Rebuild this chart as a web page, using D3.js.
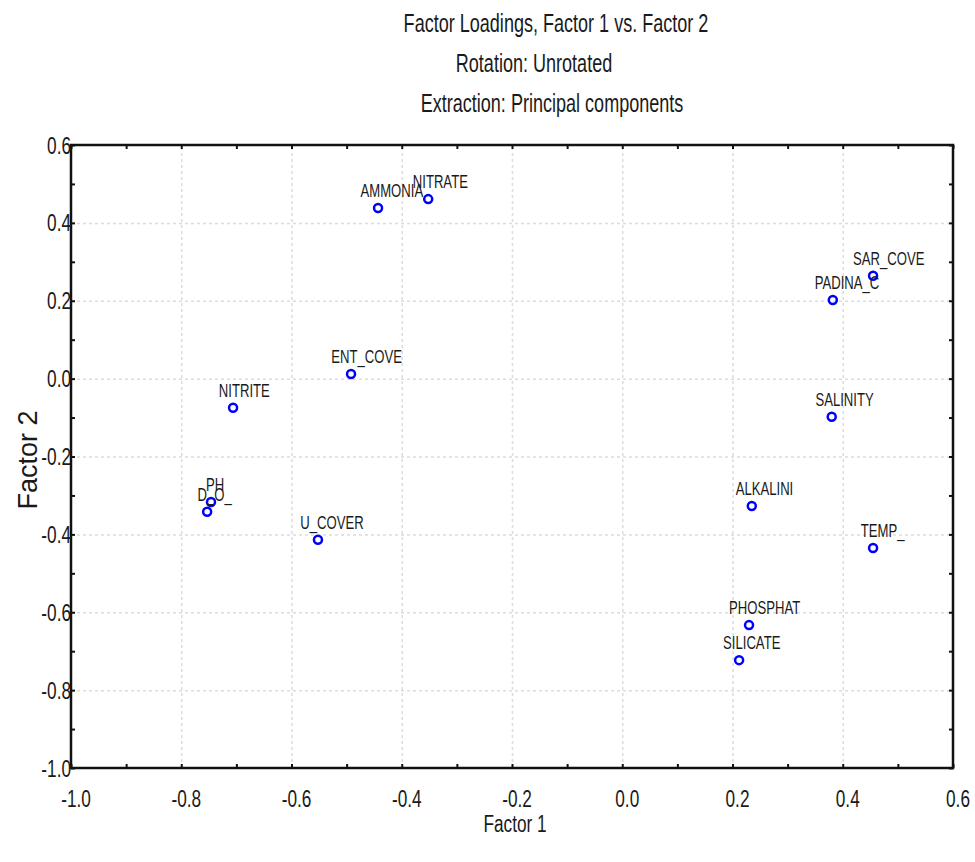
<!DOCTYPE html>
<html>
<head>
<meta charset="utf-8">
<script src="https://cdn.jsdelivr.net/npm/d3@7"></script>
<style>
  body { margin: 0; background: #fff; }
  svg { display: block; }
</style>
</head>
<body>
<svg id="chart"></svg>
<script>
// chart values
const variables = ["AMMONIA", "NITRATE", "SAR_COVE", "PADINA_C", "ENT_COVE", "NITRITE", "SALINITY",
                   "PH", "D_O_", "ALKALINI", "U_COVER", "TEMP_", "PHOSPHAT", "SILICATE"];
const factor1 = [-0.443, -0.352, 0.455, 0.382, -0.492, -0.706, 0.380,
                 -0.746, -0.753, 0.235, -0.552, 0.455, 0.230, 0.212];
const factor2 = [0.438, 0.461, 0.264, 0.202, 0.012, -0.075, -0.098,
                 -0.317, -0.342, -0.327, -0.414, -0.435, -0.633, -0.723];
const xTicks = [-1.0, -0.8, -0.6, -0.4, -0.2, 0.0, 0.2, 0.4, 0.6];
const yTicks = [-1.0, -0.8, -0.6, -0.4, -0.2, 0.0, 0.2, 0.4, 0.6];
const titleLines = ["Factor Loadings, Factor 1 vs. Factor 2", "Rotation: Unrotated", "Extraction: Principal components"];
const xTitle = "Factor 1";
const yTitle = "Factor 2";

var width = 975;
var height = 862;
var margin = {left: 71, right: 22, top: 145, bottom: 94};
var plotW = width - margin.left - margin.right;
var plotH = height - margin.top - margin.bottom;

var svg = d3.select("#chart").attr("width", width).attr("height", height);

// pick a condensed font, fall back to squeezing the regular one
var FAMILY = "'Liberation Sans Narrow', 'Arial Narrow', sans-serif";
var SX = 1, SY = 1.15;
var probe = svg.append("text").style("font-family", FAMILY).style("font-size", "20px").text("AMMONIA");
var wNarrow = probe.node().getComputedTextLength();
probe.style("font-family", "'Liberation Sans', Arial, sans-serif");
var wReg = probe.node().getComputedTextLength();
probe.remove();
if (wNarrow / wReg > 0.9) {
    FAMILY = "'Liberation Sans', Arial, sans-serif";
    SX = 0.82;
}

function label(parent, x, y, str, size, anchor) {
    return parent.append("text")
        .attr("transform", "translate(" + x + "," + y + ") scale(" + SX + "," + SY + ")")
        .attr("text-anchor", anchor)
        .style("font-family", FAMILY)
        .style("font-size", size + "px")
        .style("fill", "#1a1a1a")
        .text(str);
}

// plain hyphen for negatives, like the original
let fmt = (v) => d3.format(".1f")(v).replace("\u2212", "-");

// scales
let xScale = d3.scaleLinear().domain([-1.0, 0.6]).range([0, plotW]);
let yScale = d3.scaleLinear().domain([-1.0, 0.6]).range([plotH, 0]);

var g = svg.append("g").attr("transform", "translate(" + margin.left + "," + margin.top + ")");

// grid lines
g.append("g")
    .attr("class", "grid")
    .attr("transform", "translate(0," + plotH + ")")
    .call(d3.axisBottom(xScale).tickValues(xTicks.slice(1, -1)).tickSize(-plotH).tickFormat(""));
g.append("g")
    .attr("class", "grid")
    .call(d3.axisLeft(yScale).tickValues(yTicks.slice(1, -1)).tickSize(-plotW).tickFormat(""));
g.selectAll(".grid .domain").remove();
g.selectAll(".grid line")
    .attr("stroke", "#dcdcdc")
    .attr("stroke-width", 1.5)
    .attr("stroke-dasharray", "3,3");

// inward ticks on all four sides, major + minor
var minor = d3.range(-0.9, 0.6, 0.2);
function tickAxes(axisFn, scale, transform) {
    [xTicks, minor].forEach((vals) => {
        g.append("g")
            .attr("class", "ticks")
            .attr("transform", transform)
            .call(axisFn(scale).tickValues(vals).tickSize(-4).tickFormat(""));
    });
}
tickAxes(d3.axisBottom, xScale, "translate(0," + plotH + ")");
tickAxes(d3.axisTop, xScale, "translate(0,0)");
tickAxes(d3.axisLeft, yScale, "translate(0,0)");
tickAxes(d3.axisRight, yScale, "translate(" + plotW + ",0)");
g.selectAll(".ticks .domain").remove();
g.selectAll(".ticks line").attr("stroke", "#111").attr("stroke-width", 2);

// frame
g.append("rect")
    .attr("width", plotW).attr("height", plotH)
    .attr("fill", "none").attr("stroke", "#111").attr("stroke-width", 2.5);

// tick labels
xTicks.forEach((t) => {
    label(g, xScale(t) + 5, plotH + 39, fmt(t), 21, "middle");
});
yTicks.forEach((t) => {
    label(g, 0, yScale(t) + 8.5, fmt(t), 21, "end");
});

// points
let pts = variables.map((v, i) => ({name: v, x: factor1[i], y: factor2[i]}));

g.selectAll("circle.dot").data(pts).enter()
    .append("circle")
    .attr("class", "dot")
    .attr("r", 4)
    .attr("fill", "none")
    .attr("stroke", "#0000ff")
    .attr("stroke-width", 2.5)
    .attr("cx", (d) => xScale(d.x))
    .attr("cy", (d) => yScale(d.y));

// point labels, left edge sits a bit left of the marker
pts.forEach((d) => {
    let t = label(g, 0, 0, d.name, 16, "start");
    let w = t.node().getComputedTextLength() * SX;
    t.attr("transform", "translate(" + (xScale(d.x) - 0.28 * w) + "," + (yScale(d.y) - 11) + ") scale(" + SX + "," + SY + ")");
});

// titles
label(svg, 556, 32, titleLines[0], 22, "middle");
label(svg, 534, 72, titleLines[1], 22, "middle");
label(svg, 552, 112, titleLines[2], 22, "middle");

label(svg, 515, 832, xTitle, 21, "middle");

svg.append("text")
    .attr("transform", "translate(37,460) rotate(-90)")
    .attr("text-anchor", "middle")
    .style("font-family", "'Liberation Sans', Arial, sans-serif")
    .style("font-size", "27px")
    .style("fill", "#1a1a1a")
    .text(yTitle);
</script>
</body>
</html>
